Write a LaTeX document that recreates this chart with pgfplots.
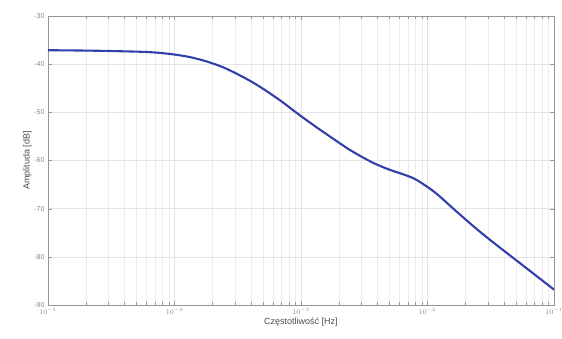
\documentclass[border=0pt]{standalone}
\usepackage{pgfplots}
\pgfplotsset{compat=1.18}
\usepackage{fontspec}
\setmainfont{Liberation Sans}
\definecolor{curve}{RGB}{50,62,170}
\definecolor{axgray}{RGB}{150,150,150}
\definecolor{gridgray}{RGB}{228,228,228}
\begin{document}
\begin{tikzpicture}
\path[use as bounding box] (-48pt,-33pt) rectangle (514pt,305pt);
\begin{axis}[
  at={(0pt,0pt)}, anchor=south west,
  scale only axis, width=506pt, height=289pt,
  xmode=log, xmin=1e-5, xmax=1e-1,
  ymin=-90, ymax=-30, ytick={-90,-80,...,-30},
  grid=both,
  major grid style={gridgray, line width=0.4pt},
  minor grid style={gridgray!70, line width=0.3pt},
  axis line style={axgray},
  tick style={axgray},
  tick align=inside,
  ticklabel style={font=\fontsize{7}{8}\selectfont, text=axgray!90!black},
  xlabel={Częstotliwość [Hz]},
  ylabel={Amplituda [dB]},
  label style={font=\fontsize{9}{10}\selectfont, text=black!70},
  xlabel style={yshift=4pt},
  ylabel style={yshift=-4pt},
  /pgf/number format/assume math mode=true,
]
\addplot[curve, line width=2.1pt, smooth, tension=0.5] table[x expr={10^\thisrowno{0}}, y index=1] {
-5.000 -37.10
-4.700 -37.18
-4.450 -37.30
-4.198 -37.50
-4.030 -37.90
-3.884 -38.50
-3.750 -39.40
-3.620 -40.60
-3.500 -42.10
-3.380 -43.80
-3.260 -45.80
-3.140 -48.00
-3.020 -50.40
-2.888 -52.90
-2.750 -55.40
-2.626 -57.60
-2.522 -59.20
-2.420 -60.60
-2.312 -61.80
-2.200 -62.80
-2.102 -63.80
-2.000 -65.50
-1.919 -67.10
-1.770 -70.60
-1.630 -73.80
-1.500 -76.60
-1.250 -81.70
-1.000 -86.80
};
\end{axis}
\end{tikzpicture}
\end{document}
